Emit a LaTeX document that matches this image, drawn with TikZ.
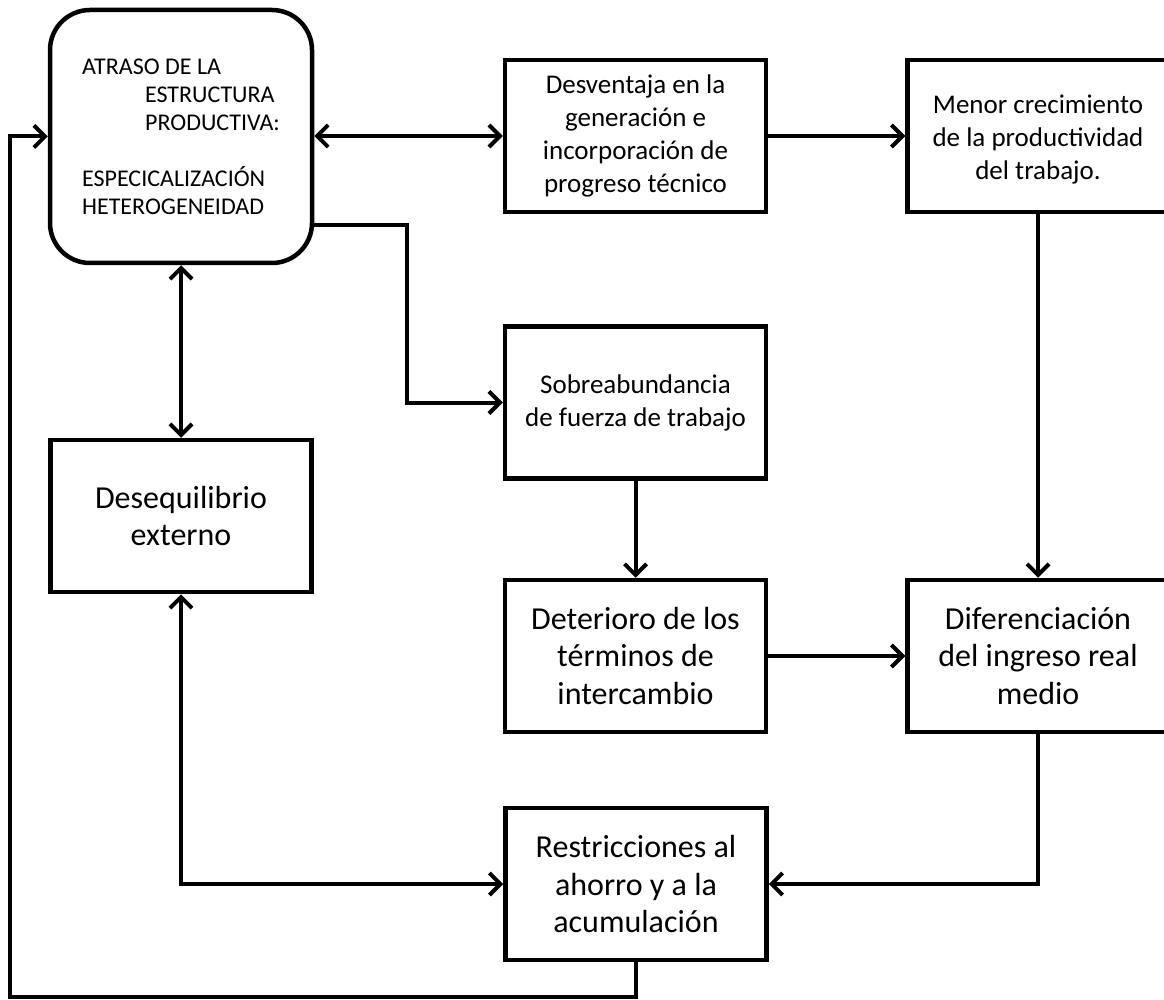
\documentclass[tikz,border=0pt]{standalone}
\usepackage{fontspec}
\setmainfont{Carlito}
\usetikzlibrary{arrows.meta}
\begin{document}
\begin{tikzpicture}[x=1pt,y=-1pt,
 box/.style={draw, line width=4.5pt, minimum width=261pt, minimum height=152pt, inner sep=0pt, align=center},
 med/.style={font=\fontsize{27}{33}\selectfont},
 big/.style={font=\fontsize{32}{37.5}\selectfont},
 conn/.style={line width=4pt, line join=miter},
 tip/.tip={Straight Barb[length=11pt,width=22pt,line width=4pt]},
 arr/.style={conn, -tip},
 darr/.style={conn, tip-tip}]
\useasboundingbox (0,0) rectangle (1164,1000);
\clip (0,0) rectangle (1164,1000);
\fill[white] (0,0) rectangle (1164,1000);

\node[box, rounded corners=40pt, minimum width=262pt, minimum height=253pt,
      font=\fontsize{24}{28}\selectfont, align=left] (atraso) at (181,136.5)
  {ATRASO DE LA\\\hspace*{63pt}ESTRUCTURA\\\hspace*{63pt}PRODUCTIVA:\\[28pt]ESPECICALIZACIÓN\\HETEROGENEIDAD};
\node[box, med] (desv) at (635.5,136) {Desventaja en la\\generación e\\incorporación de\\progreso técnico};
\node[box, med] (menor) at (1038,136) {\rule{0pt}{26pt}Menor crecimiento\\de la productividad\\del trabajo.};
\node[box, med] (sobre) at (635.5,402.5) {Sobreabundancia\\de fuerza de trabajo};
\node[box, big] (deseq) at (181,516) {Desequilibrio\\externo};
\node[box, big] (deter) at (635.5,656) {Deterioro de los\\términos de\\intercambio};
\node[box, big] (difer) at (1038,656) {Diferenciación\\del ingreso real\\medio};
\node[box, big] (restr) at (636,884) {Restricciones al\\ahorro y a la\\acumulación};

\coordinate (k1) at (407,225);
\coordinate (k2) at (10,997);

\draw[darr] (atraso.east |- desv.west) -- (desv.west);
\draw[arr] (desv.east) -- (menor.west);
\draw[arr] (atraso.east |- k1) -- (k1) |- (sobre.west);
\draw[darr] (atraso.south) -- (deseq.north);
\draw[arr] (menor.south) -- (difer.north);
\draw[arr] (sobre.south) -- (deter.north);
\draw[arr] (deter.east) -- (difer.west);
\draw[arr] (difer.south) |- (restr.east);
\draw[darr] (deseq.south) |- (restr.west);
\draw[arr] (restr.south) |- (k2) |- (atraso.west);
\end{tikzpicture}
\end{document}
